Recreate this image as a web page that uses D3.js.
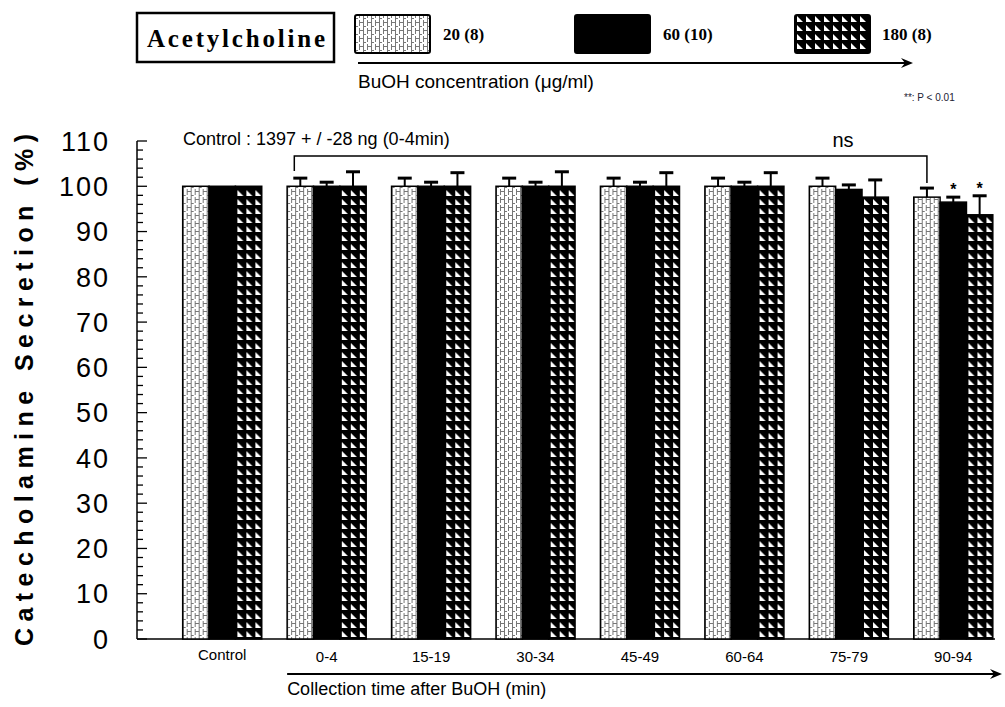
<!DOCTYPE html>
<html>
<head>
<meta charset="utf-8">
<script src="https://cdn.jsdelivr.net/npm/d3@7"></script>
<style>
  body { margin: 0; background: #fff; }
  svg { display: block; }
</style>
</head>
<body>
<script>
// data
var groups = ["Control", "0-4", "15-19", "30-34", "45-49", "60-64", "75-79", "90-94"];
var seriesNames = ["20 (8)", "60 (10)", "180 (8)"];
var v20  = [100, 100, 100, 100, 100, 100, 100, 97.6];
var v60  = [100, 100, 100, 100, 100, 100, 99.3, 96.5];
var v180 = [100, 100, 100, 100, 100, 100, 97.6, 93.7];
var e20  = [0, 1.8, 1.8, 1.8, 1.8, 1.8, 1.8, 2.0];
var e60  = [0, 0.9, 0.9, 0.9, 0.9, 0.9, 1.0, 1.1];
var e180 = [0, 3.2, 3.0, 3.2, 3.0, 3.0, 3.8, 4.2];
var starred = [[], [], [], [], [], [], [], ["60 (10)", "180 (8)"]];
var yTicks = [0, 10, 20, 30, 40, 50, 60, 70, 80, 90, 100, 110];

var values = [v20, v60, v180], errors = [e20, e60, e180];

var svg = d3.select("body").append("svg")
    .attr("width", 1005)
    .attr("height", 707);

var defs = svg.append("defs");

// brick-ish light pattern for 20
var p1 = defs.append("pattern").attr("id", "pat20")
    .attr("patternUnits", "userSpaceOnUse").attr("width", 8).attr("height", 8);
p1.append("rect").attr("width", 8).attr("height", 8).attr("fill", "#fff");
p1.append("path")
    .attr("d", "M0.5,0V8 M4.5,0V3 M4.5,5V8 M0.5,3.5H3 M5,7.5H8")
    .attr("stroke", "#777").attr("stroke-width", 1).attr("fill", "none");

// black with white triangles for 180
var p3 = defs.append("pattern").attr("id", "pat180")
    .attr("patternUnits", "userSpaceOnUse").attr("width", 9).attr("height", 9);
p3.append("rect").attr("width", 9).attr("height", 9).attr("fill", "#000");
p3.append("path").attr("d", "M2,1L2,7L8,7Z").attr("fill", "#fff");

var fills = { "20 (8)": "url(#pat20)", "60 (10)": "#000", "180 (8)": "url(#pat180)" };

var y = d3.scaleLinear().domain([0, 110]).range([639, 141]);
var x0 = d3.scaleBand().domain(groups).range([170, 1005.5])
    .paddingInner(0.243).paddingOuter(0.1215);
var x1 = d3.scaleBand().domain(seriesNames).range([0, x0.bandwidth()]);

// y axis: major ticks every 10, minor every 2, ticks pointing inward
var axisX = 137;
var yg = svg.append("g").attr("transform", "translate(" + axisX + ",0)");
yg.append("line").attr("y1", y(0)).attr("y2", y(110)).attr("stroke", "#000").attr("stroke-width", 1.5);
yg.selectAll("line.minor")
    .data(d3.range(0, 111, 2))
    .enter().append("line")
    .attr("y1", function(d) { return y(d); })
    .attr("y2", function(d) { return y(d); })
    .attr("x2", function(d) { return d % 10 === 0 ? 10 : 6; })
    .attr("stroke", "#000").attr("stroke-width", 1.3);
yg.selectAll("text")
    .data(yTicks)
    .enter().append("text")
    .attr("x", -27)
    .attr("y", function(d) { return y(d); })
    .attr("dy", "0.36em")
    .attr("text-anchor", "end")
    .attr("font-family", "Liberation Sans, Arial, sans-serif")
    .attr("font-size", 27)
    .attr("letter-spacing", 2)
    .text(function(d) { return d; });

// x axis baseline
svg.append("line")
    .attr("x1", axisX).attr("x2", 995)
    .attr("y1", y(0)).attr("y2", y(0))
    .attr("stroke", "#000").attr("stroke-width", 1.5);

// bars
var rows = [];
groups.forEach(function(g, i) {
    seriesNames.forEach(function(s, j) {
        rows.push({ group: g, series: s, value: values[j][i], err: errors[j][i],
                    star: starred[i].indexOf(s) >= 0 });
    });
});

var bars = svg.append("g").selectAll("g")
    .data(rows)
    .enter().append("g")
    .attr("transform", function(d) { return "translate(" + (x0(d.group) + x1(d.series)) + ",0)"; });

bars.append("rect")
    .attr("y", function(d) { return y(d.value); })
    .attr("width", x1.bandwidth())
    .attr("height", function(d) { return y(0) - y(d.value); })
    .attr("fill", function(d) { return fills[d.series]; })
    .attr("stroke", "#000").attr("stroke-width", 1.5);

var bw = x1.bandwidth();
bars.filter(function(d) { return d.err > 0; }).append("line")
    .attr("x1", bw / 2).attr("x2", bw / 2)
    .attr("y1", function(d) { return y(d.value); })
    .attr("y2", function(d) { return y(d.value + d.err); })
    .attr("stroke", "#000").attr("stroke-width", 2);
bars.filter(function(d) { return d.err > 0; }).append("line")
    .attr("x1", bw / 2 - 7).attr("x2", bw / 2 + 7)
    .attr("y1", function(d) { return y(d.value + d.err); })
    .attr("y2", function(d) { return y(d.value + d.err); })
    .attr("stroke", "#000").attr("stroke-width", 3);
bars.filter(function(d) { return d.star; }).append("text")
    .attr("x", bw / 2)
    .attr("y", function(d) { return y(d.value + d.err) - 2; })
    .attr("text-anchor", "middle")
    .attr("font-family", "Liberation Sans, Arial, sans-serif")
    .attr("font-weight", "bold")
    .attr("font-size", 16)
    .text("*");

// group labels
svg.append("g").selectAll("text")
    .data(groups)
    .enter().append("text")
    .attr("x", function(d) { return x0(d) + x0.bandwidth() / 2; })
    .attr("y", function(d) { return d === "Control" ? 660 : 662; })
    .attr("text-anchor", "middle")
    .attr("font-family", "Liberation Sans, Arial, sans-serif")
    .attr("font-size", 15)
    .text(function(d) { return d; });

function arrow(xa, xb, yy) {
    svg.append("line").attr("x1", xa).attr("x2", xb - 6).attr("y1", yy).attr("y2", yy)
        .attr("stroke", "#000").attr("stroke-width", 2);
    svg.append("path")
        .attr("d", "M" + (xb - 12) + "," + (yy - 5) + "L" + xb + "," + yy + "L" + (xb - 12) + "," + (yy + 5) + "L" + (xb - 8) + "," + yy + "Z")
        .attr("fill", "#000");
}

// bottom arrow + title
var firstTime = x0("0-4");
arrow(firstTime, 1002, 674);
svg.append("text")
    .attr("x", firstTime).attr("y", 695)
    .attr("font-family", "Liberation Sans, Arial, sans-serif")
    .attr("font-size", 18)
    .text("Collection time after BuOH (min)");

// y label
svg.append("text")
    .attr("transform", "translate(33,390) rotate(-90)")
    .attr("text-anchor", "middle")
    .attr("font-family", "Liberation Sans, Arial, sans-serif")
    .attr("font-weight", "bold")
    .attr("font-size", 25)
    .attr("textLength", 512)
    .attr("lengthAdjust", "spacing")
    .text("Catecholamine Secretion (%)");

// control note + ns bracket
svg.append("text")
    .attr("x", 183).attr("y", 145)
    .attr("font-family", "Liberation Sans, Arial, sans-serif")
    .attr("font-size", 18)
    .text("Control : 1397 + / -28 ng (0-4min)");

var bl = x0("0-4") + x1.bandwidth() / 2 - 6;
var br = x0("90-94") + x1.bandwidth() / 2;
svg.append("path")
    .attr("d", "M" + bl + ",171V156H" + br + "V183")
    .attr("fill", "none").attr("stroke", "#000").attr("stroke-width", 1.5);
svg.append("text")
    .attr("x", 843).attr("y", 147)
    .attr("text-anchor", "middle")
    .attr("font-family", "Liberation Sans, Arial, sans-serif")
    .attr("font-size", 20)
    .text("ns");

// legend block
svg.append("rect")
    .attr("x", 137).attr("y", 13).attr("width", 197).attr("height", 49)
    .attr("fill", "none").attr("stroke", "#000").attr("stroke-width", 2.5);
svg.append("text")
    .attr("x", 236).attr("y", 47)
    .attr("text-anchor", "middle")
    .attr("font-family", "Liberation Serif, Times New Roman, serif")
    .attr("font-weight", "bold")
    .attr("font-size", 25)
    .attr("textLength", 178)
    .attr("lengthAdjust", "spacing")
    .text("Acetylcholine");

var legX = [355, 575, 795];
var leg = svg.append("g").selectAll("g")
    .data(seriesNames)
    .enter().append("g")
    .attr("transform", function(d, i) { return "translate(" + legX[i] + ",15)"; });
leg.append("rect")
    .attr("width", 75).attr("height", 38).attr("rx", 2)
    .attr("fill", function(d) { return fills[d]; })
    .attr("stroke", "#000").attr("stroke-width", 2);
leg.append("text")
    .attr("x", function(d, i) { return i === 2 ? 87 : 88; })
    .attr("y", 25)
    .attr("font-family", "Liberation Serif, Times New Roman, serif")
    .attr("font-weight", "bold")
    .attr("font-size", 17)
    .text(function(d) { return d; });

arrow(358, 913, 63);
svg.append("text")
    .attr("x", 358).attr("y", 88)
    .attr("font-family", "Liberation Sans, Arial, sans-serif")
    .attr("font-size", 19)
    .text("BuOH concentration (\u03bcg/ml)");
svg.append("text")
    .attr("x", 904).attr("y", 101)
    .attr("font-family", "Liberation Sans, Arial, sans-serif")
    .attr("font-size", 10)
    .attr("fill", "#223")
    .text("**: P < 0.01");
</script>
</body>
</html>
